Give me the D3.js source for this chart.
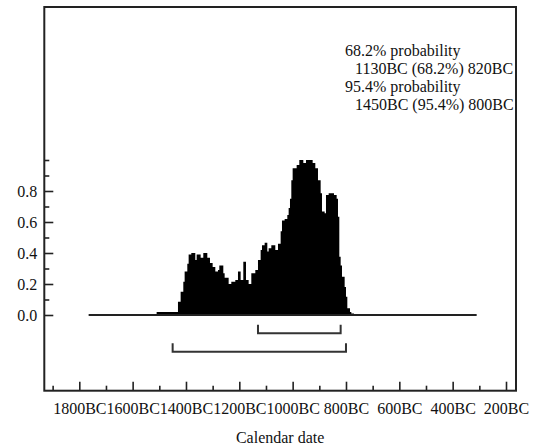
<!DOCTYPE html>
<html>
<head>
<meta charset="utf-8">
<script src="https://cdn.jsdelivr.net/npm/d3@7/dist/d3.min.js"></script>
<style>
  html, body { margin: 0; padding: 0; background: #fff; }
  svg { display: block; }
  text { font-family: "Liberation Serif", "Times New Roman", serif; fill: #111; }
</style>
</head>
<body>
<svg id="chart" width="538" height="447"></svg>
<script>
// Calibrated date probability distribution (years: negative = BC)
const years = [-1765, -1510, -1430, -1420, -1410, -1405, -1395, -1390, -1380, -1365, -1360,
  -1345, -1335, -1330, -1320, -1310, -1300, -1290, -1280, -1275, -1260, -1255, -1240,
  -1230, -1215, -1205, -1195, -1185, -1175, -1165, -1155, -1140, -1130, -1120, -1115,
  -1105, -1095, -1090, -1080, -1065, -1055, -1045, -1040, -1030, -1020, -1015, -1010,
  -1005, -1000, -985, -975, -965, -960, -950, -940, -930, -925, -915, -905, -895, -890,
  -880, -875, -865, -855, -845, -835, -830, -825, -820, -815, -805, -800, -795, -785,
  -780, -770, -760];
const probs = [0, 0.02, 0.086, 0.15, 0.215, 0.28, 0.33, 0.39, 0.40, 0.355, 0.39,
  0.37, 0.40, 0.40, 0.37, 0.335, 0.31, 0.28, 0.29, 0.32, 0.27, 0.24, 0.20,
  0.215, 0.226, 0.28, 0.226, 0.344, 0.226, 0.20, 0.27, 0.29, 0.355, 0.42, 0.45,
  0.466, 0.41, 0.43, 0.45, 0.42, 0.46, 0.54, 0.61, 0.62, 0.645, 0.69, 0.75,
  0.87, 0.946, 0.968, 1.0, 1.0, 0.98, 1.0, 1.0, 1.0, 0.98, 0.946, 0.87, 0.785, 0.667,
  0.656, 0.774, 0.785, 0.785, 0.774, 0.75, 0.634, 0.376, 0.32, 0.247, 0.18, 0.118, 0.043, 0.02,
  0.01, 0.006, 0];

// Extent of the plotted baseline
const baselineRange = [-1765, -310];

// Highest probability density ranges
const range68 = [-1130, -820];
const range95 = [-1450, -800];

// Axis ticks
const xMajorTicks = [-1800, -1600, -1400, -1200, -1000, -800, -600, -400, -200];
const xTickLabels = ["1800BC", "1600BC", "1400BC", "1200BC", "1000BC", "800BC", "600BC", "400BC", "200BC"];
const xMinorTicks = [-1900, -1700, -1500, -1300, -1100, -900, -700, -500, -300];
const yMajorTicks = [0, 0.2, 0.4, 0.6, 0.8];
const yTickLabels = ["0.0", "0.2", "0.4", "0.6", "0.8"];
const yMinorTicks = [0.1, 0.3, 0.5, 0.7, 0.9, 1.0];

const annotationLines = [
  "68.2% probability",
  "1130BC (68.2%) 820BC",
  "95.4% probability",
  "1450BC (95.4%) 800BC"
];
const xTitle = "Calendar date";

// Layout
const frame = { left: 44.3, right: 516, top: 7, bottom: 390.7 };
const svg = d3.select("#chart");

const x = d3.scaleLinear().domain([-1800, -200]).range([79.3, 506]);
const y = d3.scaleLinear().domain([0, 1]).range([315, 160]);

// Distribution
const pts = years.map((yr, i) => ({ yr, p: probs[i] }));
const area = d3.area()
  .x(d => x(d.yr))
  .y0(y(0))
  .y1(d => y(d.p))
  .curve(d3.curveStepAfter);
svg.append("path")
  .datum(pts)
  .attr("d", area)
  .attr("fill", "#000");

// Baseline
svg.append("line")
  .attr("x1", x(baselineRange[0])).attr("x2", x(baselineRange[1]))
  .attr("y1", y(0)).attr("y2", y(0))
  .attr("stroke", "#222").attr("stroke-width", 2);

// Range brackets
function bracket(r, yLine, tip) {
  const p = d3.path();
  p.moveTo(x(r[0]), yLine - tip);
  p.lineTo(x(r[0]), yLine);
  p.lineTo(x(r[1]), yLine);
  p.lineTo(x(r[1]), yLine - tip);
  svg.append("path").attr("d", p.toString())
    .attr("fill", "none").attr("stroke", "#333").attr("stroke-width", 2);
}
bracket(range68, 333.3, 8.5);
bracket(range95, 351.7, 8.5);

// Axes
const xAxisG = svg.append("g").attr("transform", `translate(0,${frame.bottom})`);
xAxisG.call(d3.axisBottom(x).tickValues(xMajorTicks)
  .tickFormat((d, i) => xTickLabels[i]).tickSizeInner(-9).tickSizeOuter(0).tickPadding(12));
const xMinorG = svg.append("g").attr("transform", `translate(0,${frame.bottom})`);
xMinorG.call(d3.axisBottom(x).tickValues(xMinorTicks).tickFormat("").tickSizeInner(-5).tickSizeOuter(0));

const yAxisG = svg.append("g").attr("transform", `translate(${frame.left},0)`);
yAxisG.call(d3.axisLeft(y).tickValues(yMajorTicks)
  .tickFormat((d, i) => yTickLabels[i]).tickSizeInner(-9).tickSizeOuter(0).tickPadding(7));
const yMinorG = svg.append("g").attr("transform", `translate(${frame.left},0)`);
yMinorG.call(d3.axisLeft(y).tickValues(yMinorTicks).tickFormat("").tickSizeInner(-5).tickSizeOuter(0));

svg.selectAll(".domain").remove();
svg.selectAll(".tick line").attr("stroke", "#222").attr("stroke-width", 1.6);
svg.selectAll(".tick text")
  .style("font-family", '"Liberation Serif", serif')
  .style("font-size", "16px")
  .attr("fill", "#111");

// Frame
svg.append("rect")
  .attr("x", frame.left).attr("y", frame.top)
  .attr("width", frame.right - frame.left).attr("height", frame.bottom - frame.top)
  .attr("fill", "none").attr("stroke", "#222").attr("stroke-width", 2);

// Annotation
const annX = [345, 355, 345, 355];
const annY = [56, 74, 92, 110];
svg.append("g").selectAll("text")
  .data(annotationLines)
  .join("text")
  .attr("x", (d, i) => annX[i])
  .attr("y", (d, i) => annY[i])
  .style("font-size", "16px")
  .text(d => d);

// Axis title
svg.append("text")
  .attr("x", (frame.left + frame.right) / 2)
  .attr("y", 443)
  .attr("text-anchor", "middle")
  .style("font-size", "16px")
  .text(xTitle);
</script>
</body>
</html>
